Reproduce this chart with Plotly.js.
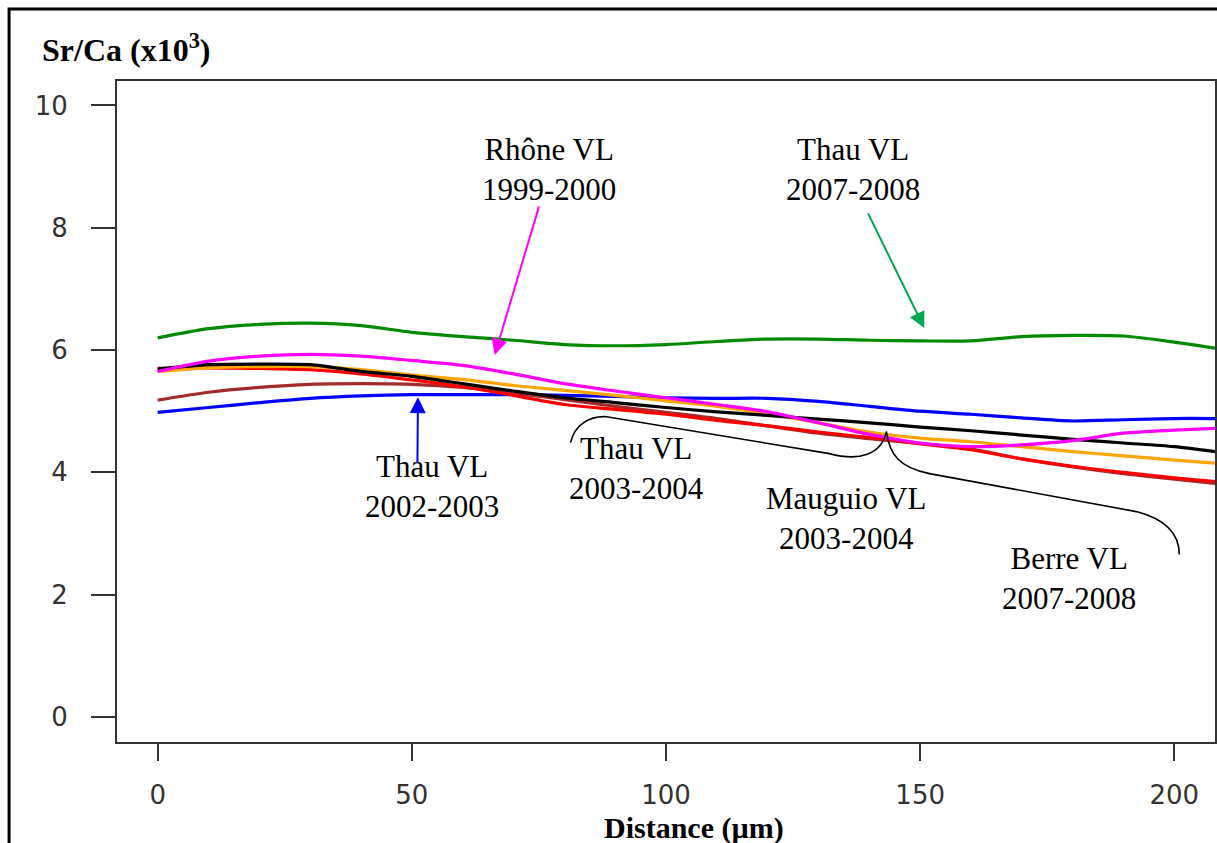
<!DOCTYPE html>
<html>
<head>
<meta charset="utf-8">
<script src="https://cdn.plot.ly/plotly-3.0.1.min.js"></script>
<style>
html,body{margin:0;padding:0;background:#fff;}
#chart{width:1217px;height:843px;}
</style>
</head>
<body>
<div id="chart"></div>
<script>
// Distance (µm) sample positions
const distance = [0,10,20,30,40,50,60,70,80,90,100,110,120,130,140,150,160,170,180,190,200,208];

// Sr/Ca (x10^3) values
const thau2007 = [6.20,6.35,6.42,6.44,6.40,6.29,6.22,6.16,6.09,6.07,6.09,6.14,6.18,6.18,6.16,6.15,6.15,6.22,6.24,6.23,6.13,6.03]; // green
const rhone1999 = [5.65,5.82,5.90,5.93,5.90,5.83,5.75,5.61,5.45,5.33,5.22,5.11,4.99,4.81,4.62,4.48,4.42,4.45,4.52,4.64,4.69,4.72]; // magenta
const thau2003 = [5.69,5.76,5.77,5.76,5.65,5.57,5.45,5.33,5.22,5.14,5.06,4.99,4.93,4.87,4.81,4.74,4.68,4.61,4.54,4.48,4.42,4.34]; // black
const mauguio2003 = [5.65,5.71,5.73,5.73,5.68,5.59,5.52,5.42,5.34,5.26,5.17,5.08,4.96,4.81,4.66,4.56,4.50,4.42,4.34,4.27,4.20,4.15]; // orange
const berre2007 = [5.70,5.71,5.70,5.68,5.61,5.51,5.40,5.26,5.11,5.03,4.95,4.85,4.76,4.66,4.57,4.47,4.37,4.22,4.10,4.00,3.91,3.85]; // red
const otherSeries = [5.18,5.31,5.39,5.44,5.45,5.44,5.39,5.30,5.19,5.08,4.98,4.88,4.76,4.64,4.55,4.47,4.38,4.22,4.09,3.98,3.89,3.82]; // brown
const thau2002 = [4.98,5.06,5.14,5.21,5.25,5.27,5.27,5.27,5.26,5.24,5.22,5.21,5.21,5.16,5.08,5.00,4.95,4.89,4.84,4.86,4.88,4.88]; // blue

const xTicks = [0,50,100,150,200];
const yTicks = [0,2,4,6,8,10];

const series = [
  {name:'Thau VL 2007-2008', y: thau2007, color:'#008a00'},
  {name:'Thau VL 2002-2003', y: thau2002, color:'#0000ff'},
  {name:'Brown series', y: otherSeries, color:'#a52a2a'},
  {name:'Berre VL 2007-2008', y: berre2007, color:'#ff0000'},
  {name:'Mauguio VL 2003-2004', y: mauguio2003, color:'#ffa500'},
  {name:'Thau VL 2003-2004', y: thau2003, color:'#000000'},
  {name:'Rhône VL 1999-2000', y: rhone1999, color:'#ff00ff'}
];

const traces = series.map(s => ({
  type:'scatter', mode:'lines', x: distance, y: s.y, name: s.name,
  line:{color:s.color, width:3.2, shape:'spline', smoothing:0.8},
  hoverinfo:'x+y+name'
}));

const serif = 'Liberation Serif, Times New Roman, serif';
const txtFont = {family: serif, size: 31, color:'#000'};

function label(text, x, y){
  return {text:text, x:x, y:y, xref:'x', yref:'y', showarrow:false, font:txtFont, align:'center', xanchor:'center', yanchor:'middle'};
}
function arrow(color, hx, hy, tx, ty){
  return {text:'', x:hx, y:hy, ax:tx, ay:ty, xref:'x', yref:'y', axref:'x', ayref:'y',
          showarrow:true, arrowhead:2, arrowsize:1.6, arrowwidth:2, arrowcolor:color};
}

const annotations = [
  label('Rhône VL<br>1999-2000', 76.9, 8.96),
  label('Thau VL<br>2007-2008', 136.7, 8.96),
  label('Thau VL<br>2002-2003', 53.9, 3.77),
  label('Thau VL<br>2003-2004', 94.2, 4.07),
  label('Mauguio VL<br>2003-2004', 135.5, 3.25),
  label('Berre VL<br>2007-2008', 179.2, 2.27),
  arrow('#ff00ff', 66.3, 5.92, 75.1, 8.37),
  arrow('#00a651', 150.8, 6.36, 139.6, 8.26),
  arrow('#0000ff', 51.2, 5.23, 51.1, 4.13),
  {text:'<b>Sr/Ca (x10<sup>3</sup>)</b>', x:-0.0701, y:1.050, xref:'paper', yref:'paper', xanchor:'left', yanchor:'middle', showarrow:false, font:{family:serif, size:32, color:'#000'}},
  {text:'<b>Distance (µm)</b>', x:0.5255, y:-0.130, xref:'paper', yref:'paper', xanchor:'center', yanchor:'middle', showarrow:false, font:{family:serif, size:30, color:'#000'}}
];

const shapes = [
  {type:'path', xref:'x', yref:'y', line:{color:'#000', width:1.6},
   path:'M 81.22,4.485 C 82.01,4.779 84.96,4.926 88.30,4.910 L 132.15,4.306 C 138.05,4.175 142.38,4.289 143.36,4.665'},
  {type:'path', xref:'x', yref:'y', line:{color:'#000', width:1.6},
   path:'M 143.36,4.665 C 143.95,4.289 145.92,4.077 151.82,3.979 L 192.53,3.358 C 197.05,3.260 200.98,3.064 200.98,2.655'},
  // outer frame of the figure
  {type:'rect', xref:'paper', yref:'paper', x0:-0.0983, x1:1.3, y0:-0.4, y1:1.109, line:{color:'#000', width:3}, layer:'below'}
];

const layout = {
  width:1217, height:843,
  margin:{l:117, r:2, t:81, b:101},
  paper_bgcolor:'#fff', plot_bgcolor:'#fff',
  showlegend:false,
  xaxis:{range:[-8,208], tickvals:xTicks, ticktext:xTicks.map(String), ticks:'outside', ticklen:17, tickwidth:2, tickcolor:'#333',
         showline:true, mirror:true, linecolor:'#333', linewidth:2, showgrid:false, zeroline:false,
         tickfont:{family:'DejaVu Sans, sans-serif', size:26, color:'#333'}, ticklabelstandoff:12},
  yaxis:{range:[-0.41,10.4], tickvals:yTicks, ticktext:yTicks.map(String), ticks:'outside', ticklen:24, tickwidth:2, tickcolor:'#333',
         showline:true, mirror:true, linecolor:'#333', linewidth:2, showgrid:false, zeroline:false,
         tickfont:{family:'DejaVu Sans, sans-serif', size:26, color:'#333'}, ticklabelstandoff:18},
  annotations: annotations,
  shapes: shapes
};

Plotly.newPlot('chart', traces, layout, {displayModeBar:false, staticPlot:true});
</script>
</body>
</html>
